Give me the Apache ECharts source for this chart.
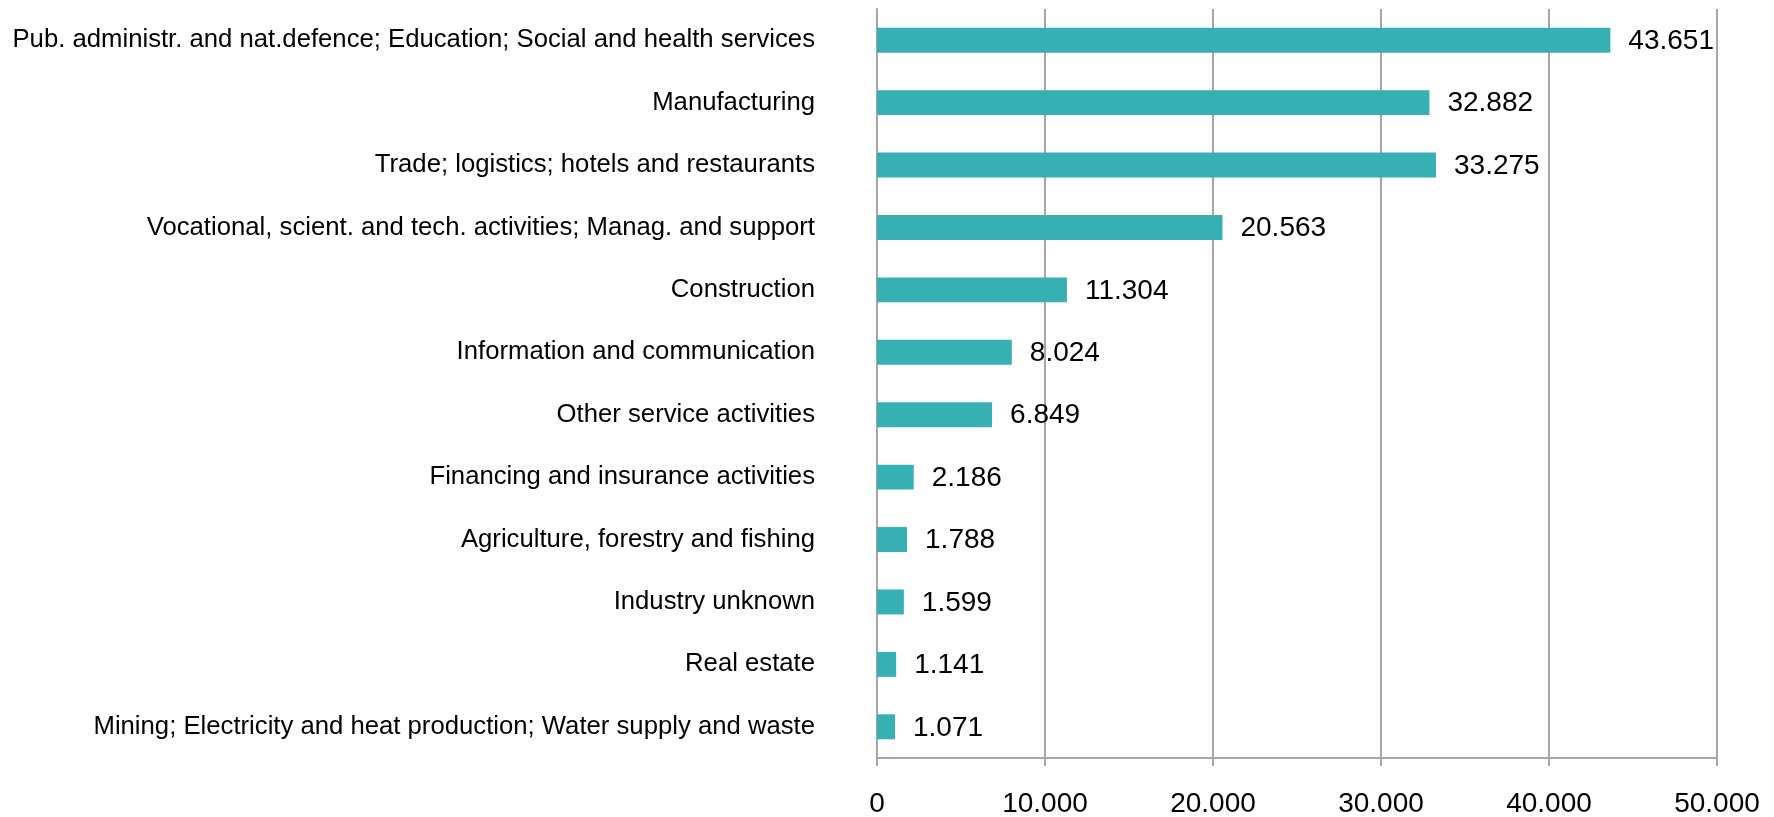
<!DOCTYPE html>
<html>
<head>
<meta charset="utf-8">
<script src="https://cdn.jsdelivr.net/npm/echarts@6/dist/echarts.min.js"></script>
<style>
html,body{margin:0;padding:0;background:#fff;}
#chart{width:1774px;height:817px;}
</style>
</head>
<body>
<div id="chart"></div>
<script>
const categories = [
  "Pub. administr. and nat.defence; Education; Social and health services",
  "Manufacturing",
  "Trade; logistics; hotels and restaurants",
  "Vocational, scient. and tech. activities; Manag. and support",
  "Construction",
  "Information and communication",
  "Other service activities",
  "Financing and insurance activities",
  "Agriculture, forestry and fishing",
  "Industry unknown",
  "Real estate",
  "Mining; Electricity and heat production; Water supply and waste"
];
const values = [43651, 32882, 33275, 20563, 11304, 8024, 6849, 2186, 1788, 1599, 1141, 1071];

function fmt(v){
  return String(Math.round(v)).replace(/\B(?=(\d{3})+(?!\d))/g, '.');
}

const chart = echarts.init(document.getElementById('chart'));
chart.setOption({
  animation: false,
  grid: {left: 877, right: 57, top: 9, bottom: 59, containLabel: false, outerBoundsMode: 'none'},
  xAxis: {
    type: 'value', min: 0, max: 50000, interval: 10000,
    axisLine: {show: true, lineStyle: {color: '#A6A6A6', width: 2}},
    axisTick: {show: true, length: 8, lineStyle: {color: '#A6A6A6', width: 2}},
    splitLine: {show: true, lineStyle: {color: '#A6A6A6', width: 2}},
    axisLabel: {formatter: fmt, color: '#000', fontSize: 28, fontFamily: 'Liberation Sans, Arial, sans-serif', margin: 32}
  },
  yAxis: {
    type: 'category', data: categories, inverse: true,
    axisLine: {show: true, lineStyle: {color: '#A6A6A6', width: 2}},
    axisTick: {show: false},
    axisLabel: {color: '#000', fontSize: 25.7, fontFamily: 'Liberation Sans, Arial, sans-serif', margin: 62}
  },
  series: [{
    type: 'bar', data: values, barWidth: '40%',
    itemStyle: {color: '#37B0B3'},
    label: {show: true, position: 'right', distance: 18, offset: [0, 1], formatter: p => fmt(p.value),
      color: '#000', fontSize: 28, fontFamily: 'Liberation Sans, Arial, sans-serif'}
  }]
});
</script>
</body>
</html>
